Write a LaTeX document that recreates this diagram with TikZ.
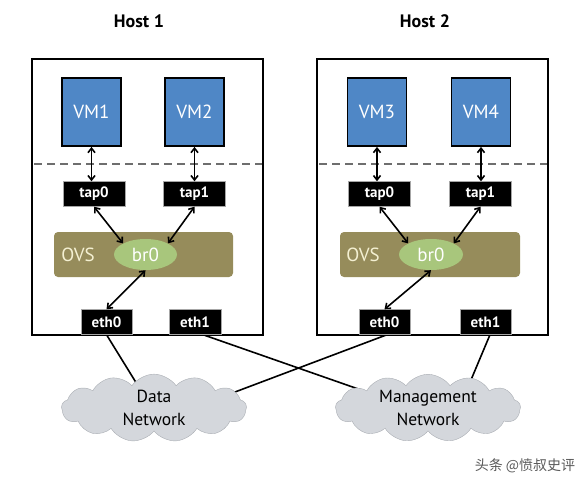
\documentclass[tikz,border=0pt]{standalone}
\usepackage{fontspec}
\setmainfont{PT Sans}
\newfontfamily\cjk{Noto Sans CJK SC}
\usetikzlibrary{shapes.geometric,shapes.symbols,arrows.meta,backgrounds}
\definecolor{vmblue}{HTML}{4F87C6}
\definecolor{ovsolive}{HTML}{968C5B}
\definecolor{brgreen}{HTML}{A8C67C}
\definecolor{ovstext}{HTML}{F4F0D2}
\definecolor{cloudgray}{HTML}{D4D7DC}
\definecolor{cloudedge}{HTML}{A9ADB3}
\definecolor{dashgray}{HTML}{6E6E6E}
\begin{document}
\begin{tikzpicture}[x=1pt,y=-1pt,
    hostbox/.style={draw, line width=2.6pt, inner sep=0, minimum width=231, minimum height=276},
    vmbox/.style={draw, line width=1.8pt, fill=vmblue, text=white, inner sep=0,
      minimum width=59, minimum height=68, font=\fontsize{19}{21}\selectfont},
    portbox/.style={draw=gray!70, thin, fill=black, text=white, inner sep=0,
      minimum height=25, font=\bfseries\fontsize{15}{17}\selectfont},
    ovsbox/.style={fill=ovsolive, rounded corners=4pt, inner sep=0, minimum width=179, minimum height=45},
    bridge/.style={ellipse, fill=brgreen, text=white, inner sep=0, minimum width=63, minimum height=31,
      font=\fontsize{19}{21}\selectfont},
    divider/.style={dashgray, line width=1.8pt, dash pattern=on 8pt off 5pt},
    link/.style={line width=1.6pt, {Straight Barb[length=4.5pt,width=7pt]}-{Straight Barb[length=4.5pt,width=7pt]}},
    wire/.style={line width=1.6pt},
    net/.style={cloud, cloud puffs=13, cloud puff arc=110, aspect=3, draw=cloudedge, fill=cloudgray,
      minimum width=185, minimum height=60, inner sep=0, align=center,
      font=\fontsize{17.5}{23}\selectfont}]
  \useasboundingbox (0,0) rectangle (588,478);

  % Host titles
  \node[font=\bfseries\fontsize{18}{20}\selectfont] (title1) at (139,21) {Host 1};
  \node[font=\bfseries\fontsize{18}{20}\selectfont] (title2) at (425,21) {Host 2};

  % Host frames
  \node[hostbox] (h1box) at (147.5,197) {};
  \node[hostbox] (h2box) at (432.5,197) {};

  % Dashed line between VMs and host
  \draw[divider] (34,164) -- (262,164);
  \draw[divider] (319,164) -- (547,164);

  % Host 1
  \node[vmbox] (h1vm1) at (91.5,112) {VM1};
  \node[vmbox] (h1vm2) at (194.5,112) {VM2};
  \node[portbox, minimum width=62] (h1tap0) at (94,194) {tap0};
  \node[portbox, minimum width=62] (h1tap1) at (194.5,194) {tap1};
  \node[ovsbox] (h1ovs) at (143.5,254.5) {};
  \node[text=ovstext, font=\fontsize{19}{21}\selectfont] (h1ovslabel) at (78,254.5) {OVS};
  \node[bridge] (h1br0) at (145.5,254.5) {br0};
  \node[portbox, minimum width=51] (h1eth0) at (106.5,322) {eth0};
  \node[portbox, minimum width=52] (h1eth1) at (195,322) {eth1};

  % Host 2
  \node[vmbox] (h2vm3) at (377,112) {VM3};
  \node[vmbox] (h2vm4) at (481,112) {VM4};
  \node[portbox, minimum width=62] (h2tap0) at (379.5,194) {tap0};
  \node[portbox, minimum width=62] (h2tap1) at (480.5,194) {tap1};
  \node[ovsbox, minimum width=180] (h2ovs) at (430,254.5) {};
  \node[text=ovstext, font=\fontsize{19}{21}\selectfont] (h2ovslabel) at (363,254.5) {OVS};
  \node[bridge, minimum width=64] (h2br0) at (431,254.5) {br0};
  \node[portbox, minimum width=51] (h2eth0) at (384.5,322) {eth0};
  \node[portbox, minimum width=51] (h2eth1) at (485.5,322) {eth1};

  % Inside links
  \draw[link] (h1vm1.south) -- (h1vm1.south |- h1tap0.north);
  \draw[link] (h1vm2.south) -- (h1vm2.south |- h1tap1.north);
  \draw[link] (h1tap0.south) -- (h1br0.north west);
  \draw[link] (h1tap1.south) -- (h1br0.north east);
  \draw[link] (h1br0.south) -- (h1eth0.north);
  \draw[link] (h2vm3.south) -- (h2vm3.south |- h2tap0.north);
  \draw[link] (h2vm4.south) -- (h2vm4.south |- h2tap1.north);
  \draw[link] (h2tap0.south) -- (h2br0.north west);
  \draw[link] (h2tap1.south) -- (h2br0.north east);
  \draw[link] (h2br0.south) -- (h2eth0.north);

  % Networks
  \node[net] (data) at (154,408) {Data\\Network};
  \node[net] (mgmt) at (428,408) {Management\\Network};
  \coordinate (datain1) at (140,389);
  \coordinate (datain2) at (231,393.5);
  \coordinate (mgmtin1) at (364,391);
  \coordinate (mgmtin2) at (468,387);

  \begin{scope}[on background layer]
    \draw[wire] (h1eth0.south) -- (datain1);
    \draw[wire] ([xshift=8]h1eth1.south) -- (mgmtin1);
    \draw[wire] ([xshift=2.5]h2eth0.south) -- (datain2);
    \draw[wire] ([xshift=4.5]h2eth1.south) -- (mgmtin2);
  \end{scope}

  % Watermark
  \node[text=black!65, font=\cjk\fontsize{14}{16}\selectfont] (mark) at (525,466) {头条 @愤叔史评};
\end{tikzpicture}
\end{document}
